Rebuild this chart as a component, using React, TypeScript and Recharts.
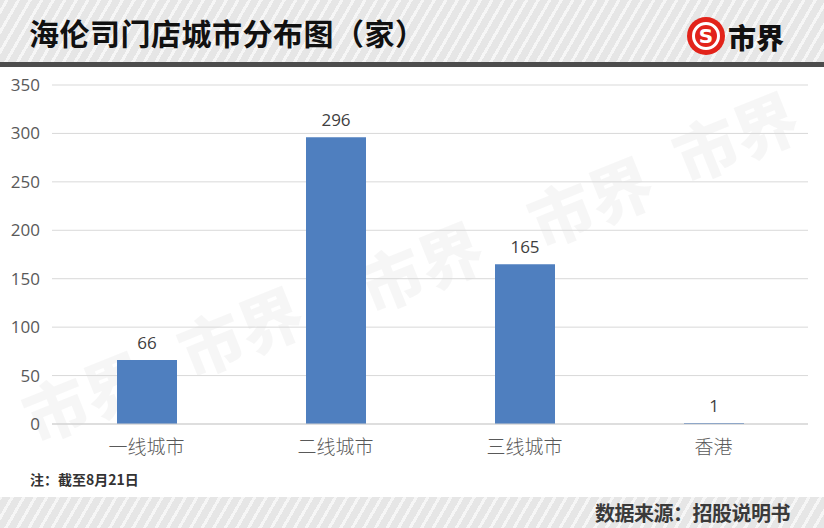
import React from "react";
import { BarChart, Bar, XAxis, YAxis, CartesianGrid, LabelList } from "recharts";

const categories = ["一线城市", "二线城市", "三线城市", "香港"];
const storeCounts = [66, 296, 165, 1];
const yTicks = [0, 50, 100, 150, 200, 250, 300, 350];

const data = categories.map((name, i) => ({ name, value: storeCounts[i] }));

const CJK = '"Noto Sans CJK SC", "Noto Sans", sans-serif';

const stripeBg =
  "repeating-linear-gradient(-60deg, #e6e6e6 0px, #e6e6e6 7px, #f6f6f6 7px, #f6f6f6 10px)";

const watermarks = [
  { x: 95, y: 420 },
  { x: 250, y: 355 },
  { x: 430, y: 290 },
  { x: 600, y: 225 },
  { x: 745, y: 160 },
];

export default function App() {
  return (
    <div
      style={{
        position: "absolute",
        left: 0,
        top: 0,
        width: 824,
        height: 528,
        background: "#ffffff",
        overflow: "hidden",
        fontFamily: CJK,
      }}
    >
      {/* header */}
      <div
        style={{
          position: "absolute",
          left: 0,
          top: 0,
          width: 824,
          height: 62,
          background: stripeBg,
        }}
      />
      <div
        style={{
          position: "absolute",
          left: 0,
          top: 62,
          width: 824,
          height: 5,
          background: "#4d4d4d",
        }}
      />
      <div
        style={{
          position: "absolute",
          left: 29,
          top: 10,
          fontSize: 30,
          fontWeight: 700,
          color: "#111",
          letterSpacing: 0.5,
          whiteSpace: "nowrap",
          lineHeight: "44px",
        }}
      >
        海伦司门店城市分布图（家）
      </div>
      <svg
        style={{ position: "absolute", left: 684, top: 14 }}
        width={46}
        height={46}
      >
        <circle cx={22} cy={22} r={19} fill="#e2231a" />
        <circle cx={22} cy={22} r={12.5} fill="none" stroke="#fff" strokeWidth={3} />
        <text
          x={22}
          y={29}
          textAnchor="middle"
          fontSize={20}
          fontWeight={900}
          fill="#fff"
          fontFamily="DejaVu Sans"
        >
          S
        </text>
      </svg>
      <div
        style={{
          position: "absolute",
          left: 728,
          top: 15,
          fontSize: 28,
          fontWeight: 900,
          color: "#111",
          lineHeight: "44px",
          whiteSpace: "nowrap",
        }}
      >
        市界
      </div>

      {/* watermarks */}
      <svg
        style={{ position: "absolute", left: 0, top: 0, pointerEvents: "none" }}
        width={824}
        height={528}
      >
        {watermarks.map((w, i) => (
          <text
            key={i}
            x={w.x}
            y={w.y}
            textAnchor="middle"
            fontSize={64}
            fontWeight={900}
            fill="#000"
            fillOpacity={0.035}
            fontFamily={CJK}
            transform={`rotate(-22 ${w.x} ${w.y})`}
          >
            市界
          </text>
        ))}
      </svg>

      {/* chart */}
      <div style={{ position: "absolute", left: 0, top: 0 }}>
        <BarChart
          width={824}
          height={528}
          data={data}
          margin={{ top: 85, right: 16, bottom: 74, left: 0 }}
        >
          <CartesianGrid vertical={false} stroke="#d9d9d9" strokeWidth={1} />
          <YAxis
            width={52}
            domain={[0, 350]}
            ticks={yTicks}
            interval={0}
            axisLine={false}
            tickLine={false}
            tickSize={0}
            tickMargin={12}
            tick={{ fill: "#595959", fontSize: 17, fontFamily: '"Open Sans", "Noto Sans", sans-serif' }}
          />
          <XAxis
            dataKey="name"
            height={30}
            axisLine={{ stroke: "#d0d0d0", strokeWidth: 1 }}
            tickLine={false}
            tickSize={0}
            tickMargin={17}
            interval={0}
            tick={{ fill: "#595959", fontSize: 19, fontWeight: 300, fontFamily: CJK }}
          />
          <Bar dataKey="value" fill="#4f7fbf" barSize={60} isAnimationActive={false}>
            <LabelList
              dataKey="value"
              position="top"
              offset={11}
              style={{ fill: "#404040", fontSize: 17, fontFamily: '"Open Sans", "Noto Sans", sans-serif' }}
            />
          </Bar>
        </BarChart>
      </div>

      {/* note */}
      <div
        style={{
          position: "absolute",
          left: 30,
          top: 468,
          fontSize: 14,
          fontWeight: 700,
          color: "#333",
          lineHeight: "22px",
          whiteSpace: "nowrap",
        }}
      >
        注：截至8月21日
      </div>

      {/* footer */}
      <div
        style={{
          position: "absolute",
          left: 0,
          top: 497,
          width: 824,
          height: 31,
          background: stripeBg,
        }}
      />
      <div
        style={{
          position: "absolute",
          right: 34,
          top: 497,
          fontSize: 20,
          fontWeight: 700,
          color: "#3a3a3a",
          letterSpacing: -0.5,
          lineHeight: "32px",
          whiteSpace: "nowrap",
        }}
      >
        数据来源：招股说明书
      </div>
    </div>
  );
}
